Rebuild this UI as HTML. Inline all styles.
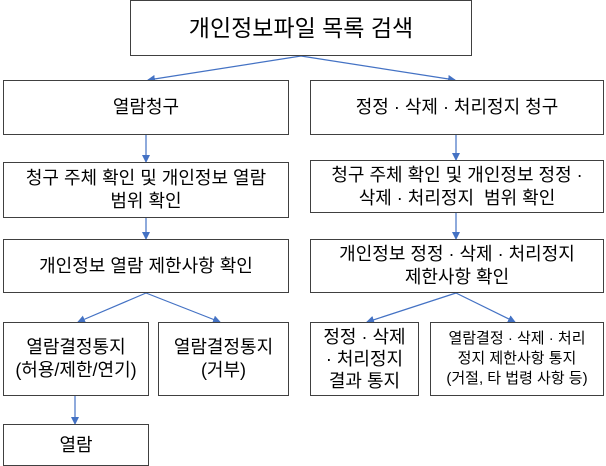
<!DOCTYPE html>
<html><head><meta charset="utf-8"><style>
body{margin:0;width:606px;height:466px;background:#fff;position:relative;overflow:hidden;font-family:"Liberation Sans","Noto Sans CJK KR",sans-serif;color:#000}
.b{position:absolute;box-sizing:border-box;border:1.3px solid #404040;background:#fff;display:flex;align-items:center;justify-content:center;text-align:center;font-size:18px;line-height:23px}
svg{position:absolute;left:0;top:0}
</style></head><body>
<svg width="606" height="466"><defs><marker id="a" markerWidth="8" markerHeight="8" refX="7" refY="4" orient="auto" markerUnits="userSpaceOnUse"><path d="M0,0L8,4L0,8z" fill="#4472c4"/></marker></defs>
<g stroke="#4472c4" stroke-width="1.2" marker-end="url(#a)">
<line x1="301" y1="56" x2="148" y2="80"/><line x1="301" y1="56" x2="455" y2="80"/>
<line x1="146" y1="135" x2="146" y2="162"/><line x1="456" y1="135" x2="456" y2="160"/>
<line x1="146" y1="218" x2="146" y2="239"/><line x1="456" y1="213" x2="456" y2="239"/>
<line x1="146" y1="293" x2="78" y2="322"/><line x1="146" y1="293" x2="220" y2="322"/>
<line x1="456" y1="293" x2="367" y2="322"/><line x1="456" y1="293" x2="515" y2="322"/>
<line x1="75" y1="396" x2="75" y2="424"/></g></svg>
<div class="b" style="left:130px;top:0;width:342px;height:56px;font-size:23px">개인정보파일 목록 검색</div>
<div class="b" style="left:3px;top:80px;width:286px;height:55px">열람청구</div>
<div class="b" style="left:310px;top:80px;width:294px;height:55px">정정 · 삭제 · 처리정지 청구</div>
<div class="b" style="left:3px;top:162px;width:286px;height:56px">청구 주체 확인 및 개인정보 열람<br>범위 확인</div>
<div class="b" style="left:310px;top:160px;width:294px;height:53px">청구 주체 확인 및 개인정보 정정 ·<br>삭제 · 처리정지&nbsp; 범위 확인</div>
<div class="b" style="left:3px;top:239px;width:286px;height:54px">개인정보 열람 제한사항 확인</div>
<div class="b" style="left:310px;top:239px;width:294px;height:54px">개인정보 정정 · 삭제 · 처리정지<br>제한사항 확인</div>
<div class="b" style="left:3px;top:322px;width:146px;height:74px">열람결정통지<br>(허용/제한/연기)</div>
<div class="b" style="left:158px;top:322px;width:131px;height:74px">열람결정통지<br>(거부)</div>
<div class="b" style="left:310px;top:322px;width:109px;height:74px;line-height:22px">정정 · 삭제<br>· 처리정지<br>결과 통지</div>
<div class="b" style="left:430px;top:322px;width:174px;height:74px;font-size:15px;line-height:20px">열람결정 · 삭제 · 처리<br>정지 제한사항 통지<br>(거절, 타 법령 사항 등)</div>
<div class="b" style="left:3px;top:424px;width:146px;height:42px">열람</div>
</body></html>
